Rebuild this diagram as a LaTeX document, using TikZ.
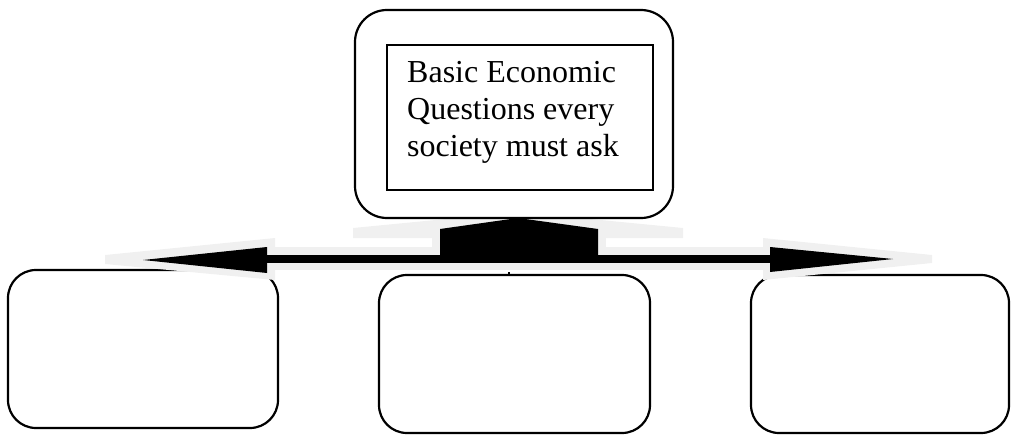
\documentclass[tikz,border=0pt]{standalone}
\usepackage{fontspec}
\setmainfont{Liberation Serif}
\begin{document}
\begin{tikzpicture}[x=1pt,y=-1pt,
  roundbox/.style={draw=black, line width=2.2pt, rounded corners=28pt, inner sep=0pt, outer sep=0pt},
  grayfill/.style={fill=black!6, draw=none},
  blackfill/.style={fill=black, draw=none}]
\useasboundingbox (0,0) rectangle (1011,436);
% bottom boxes
\node[roundbox, minimum width=270pt, minimum height=158pt] (b1) at (143,349) {};
\node[roundbox, minimum width=271pt, minimum height=158pt] (b2) at (514.5,354) {};
\node[roundbox, minimum width=258pt, minimum height=158pt] (b3) at (880,354) {};
% three-way arrow: gray outline
\fill[grayfill] (353,238) -- (353,228) -- (518,212) -- (683,228) -- (683,238) -- cycle;
\fill[grayfill] (432,229) rectangle (606,253);
\fill[grayfill] (270,247) rectangle (765,270);
\fill[grayfill] (275,238) -- (275,280) -- (105,264) -- (105,255) -- cycle;
\fill[grayfill] (763,238) -- (763,280) -- (932,263) -- (932,255) -- cycle;
% black body
\fill[blackfill] (440,255) -- (440,229) -- (518,218) -- (598,229) -- (598,255) -- cycle;
\fill[blackfill] (265,255) rectangle (772,263);
\fill[blackfill] (267,247) -- (267,273) -- (143,260) -- cycle;
\fill[blackfill] (770,247) -- (770,272) -- (893,259) -- cycle;
\fill[black] (508,272) rectangle (510,274);
% top box
\node[roundbox, fill=white, rounded corners=32pt, minimum width=318pt, minimum height=208pt] (top) at (514,114) {};
\node[draw=black, line width=1.6pt, inner sep=0pt, minimum width=266pt, minimum height=145pt] (q) at (520,117.5) {};
\node[anchor=north west, inner sep=0pt, align=left, font=\fontsize{32}{37}\selectfont] (qt) at (407,61.5)
  {Basic Economic\\Questions every\\society must ask};
\end{tikzpicture}
\end{document}
